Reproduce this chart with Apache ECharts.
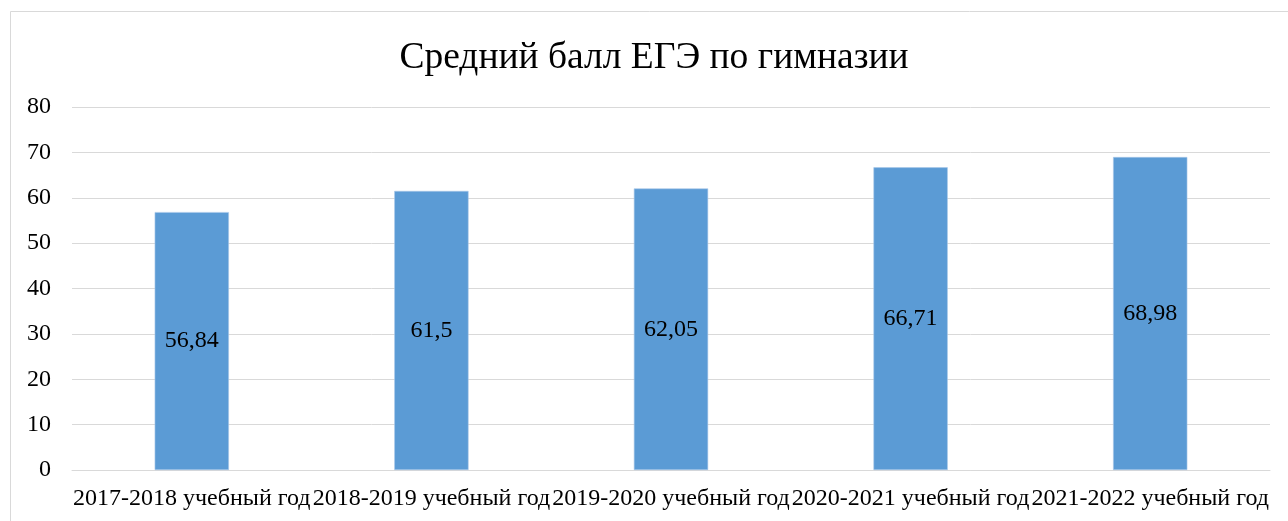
<!DOCTYPE html>
<html>
<head>
<meta charset="utf-8">
<script src="https://cdn.jsdelivr.net/npm/echarts@6/dist/echarts.min.js"></script>
<style>
  html, body { margin: 0; padding: 0; background: #fff; }
  #chart { width: 1288px; height: 521px; }
</style>
</head>
<body>
<div id="chart"></div>
<script>
// учебные годы
const categories = [
  '2017-2018 учебный год',
  '2018-2019 учебный год',
  '2019-2020 учебный год',
  '2020-2021 учебный год',
  '2021-2022 учебный год'
]
// средний балл
const scores = [56.84, 61.5, 62.05, 66.71, 68.98]
const titleText = 'Средний балл ЕГЭ по гимназии'

const font = '"Liberation Serif", "Times New Roman", serif'

const chart = echarts.init(document.getElementById('chart'), null, { renderer: 'canvas' })

const option = {
  backgroundColor: '#fff',
  animation: false,
  textStyle: { fontFamily: font },
  graphic: [{
    type: 'rect',
    shape: { x: 10.5, y: 11.5, width: 1300, height: 520 },
    style: { fill: 'none', stroke: '#d9d9d9', lineWidth: 1 },
    silent: true
  }],
  title: {
    text: titleText,
    left: 649,
    top: 34,
    textAlign: 'center',
    textStyle: { fontFamily: font, fontSize: 37.5, fontWeight: 'normal', color: '#000' }
  },
  grid: { left: 72, right: 18, top: 107, bottom: 51, containLabel: false },
  xAxis: {
    type: 'category',
    data: categories,
    axisLine: { show: true, lineStyle: { color: '#d9d9d9', width: 1 } },
    axisTick: { show: false },
    axisLabel: {
      interval: 0,
      color: '#000',
      fontFamily: font,
      fontSize: 24,
      margin: 17,
      overflow: 'none',
      width: 280
    }
  },
  yAxis: {
    type: 'value',
    min: 0,
    max: 80,
    interval: 10,
    axisLine: { show: false },
    axisTick: { show: false },
    splitLine: { lineStyle: { color: '#d9d9d9', width: 1 } },
    axisLabel: { color: '#000', fontFamily: font, fontSize: 24, margin: 21 }
  },
  series: [{
    type: 'bar',
    data: scores,
    barWidth: '31%',
    itemStyle: { color: '#5b9bd5', borderColor: '#a9c8ea', borderWidth: 0.6 },
    label: {
      show: true,
      position: 'inside',
      color: '#000',
      fontFamily: font,
      fontSize: 24,
      formatter: p => String(p.value).replace('.', ',')
    }
  }]
}

chart.setOption(option)
</script>
</body>
</html>
